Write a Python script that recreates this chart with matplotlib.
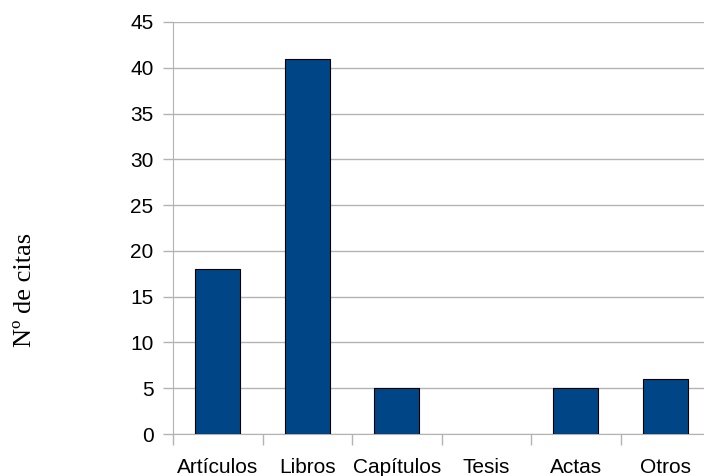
import numpy as np
import matplotlib.pyplot as plt

categorias = ['Artículos', 'Libros', 'Capítulos', 'Tesis', 'Actas', 'Otros']
citas = [18, 41, 5, 0, 5, 6]

plt.rcParams['font.family'] = ['Liberation Sans', 'DejaVu Sans']

fig = plt.figure(figsize=(7.04, 4.76), dpi=100)
ax = fig.add_axes([173 / 704, 1 - 434 / 476, 537 / 704, 412 / 476])

x = np.arange(len(categorias))
# sin borde para barras de altura cero
bordes = ['black' if v > 0 else 'none' for v in citas]
ax.bar(x, citas, width=0.5, color='#004586', edgecolor=bordes, linewidth=0.8, zorder=3)

ax.set_xlim(-0.5, len(categorias) - 0.5)
ax.set_ylim(0, 45)
ax.set_yticks(range(0, 46, 5))
ax.yaxis.grid(True, color='#b3b3b3', linewidth=1)
ax.set_axisbelow(True)

# ticks en los limites de cada categoria, etiquetas centradas
ax.set_xticks(np.arange(-0.5, len(categorias), 1))
ax.set_xticklabels([])
ax.set_xticks(x, minor=True)
ax.set_xticklabels(categorias, minor=True, fontsize=15)
ax.tick_params(axis='x', which='minor', length=0, pad=17)
ax.tick_params(axis='x', which='major', length=8, color='#b3b3b3', width=1)
ax.tick_params(axis='y', length=7.5, color='#b3b3b3', width=1, labelsize=15, pad=6.5)

for s in ['top', 'right']:
    ax.spines[s].set_visible(False)
ax.spines['left'].set_color('#b3b3b3')
ax.spines['bottom'].set_color('#b3b3b3')

fig.text(25 / 704, 1 - 290 / 476, 'Nº de citas', rotation=90, ha='center', va='center',
         fontsize=19, family='Liberation Serif')

fig.savefig('out.png', dpi=100)
